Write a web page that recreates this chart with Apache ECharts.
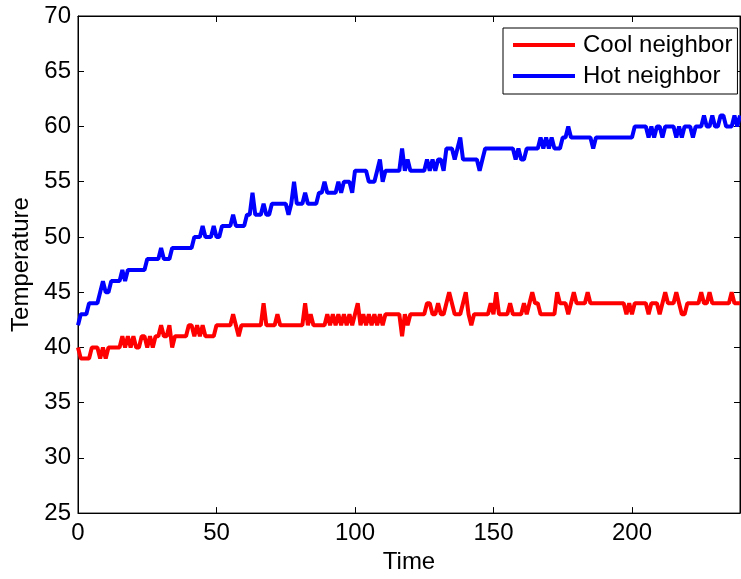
<!DOCTYPE html>
<html>
<head>
<meta charset="utf-8">
<script src="https://cdn.jsdelivr.net/npm/echarts@6/dist/echarts.min.js"></script>
<style>html,body{margin:0;padding:0;background:#fff}#c{width:741px;height:579px}</style>
</head>
<body>
<div id="c"></div>
<script>
const seriesNames = ["Cool neighbor", "Hot neighbor"];
const xTicks = [0, 50, 100, 150, 200];
const yTicks = [25, 30, 35, 40, 45, 50, 55, 60, 65, 70];
const coolValues = [
40,39,39,39,39,40,40,40,39,40,
39,40,40,40,40,40,41,40,41,40,
41,40,40,41,41,40,41,40,41,41,
42,41,41,42,40,41,41,41,41,41,
42,42,41,42,41,42,41,41,41,41,
42,42,42,42,42,42,43,42,41,42,
42,42,42,42,42,42,42,44,42,42,
42,42,43,42,42,42,42,42,42,42,
42,42,44,42,43,42,42,42,42,42,
43,42,43,42,43,42,43,42,43,42,
43,44,42,43,42,43,42,43,42,43,
42,43,43,43,43,43,43,41,43,42,
43,43,43,43,43,43,44,44,43,43,
44,43,43,44,45,44,43,43,43,44,
45,43,42,43,43,43,43,43,43,44,
43,45,43,43,43,43,44,43,43,43,
43,44,43,44,45,44,44,43,43,43,
43,43,43,45,44,44,44,43,44,45,
44,44,44,44,45,44,44,44,44,44,
44,44,44,44,44,44,44,44,43,44,
43,44,44,44,44,44,43,44,44,44,
43,44,45,44,44,44,45,44,43,43,
44,44,44,44,44,45,44,44,45,44,
44,44,44,44,44,44,45,44,44,44
];
const hotValues = [
42,43,43,43,44,44,44,44,45,46,
45,45,46,46,46,46,47,46,47,47,
47,47,47,47,47,48,48,48,48,48,
49,48,48,48,49,49,49,49,49,49,
49,49,50,50,50,51,50,50,50,51,
50,50,51,51,51,51,52,51,51,51,
51,52,52,54,52,52,52,53,52,52,
53,53,53,53,53,53,52,53,55,53,
53,53,54,53,53,53,53,54,54,55,
54,54,54,54,55,54,55,55,55,54,
56,56,56,56,56,55,55,55,56,57,
55,56,56,56,56,56,56,58,56,57,
56,56,56,56,56,56,57,56,57,56,
57,57,56,58,58,58,57,58,59,57,
57,57,57,57,57,56,57,58,58,58,
58,58,58,58,58,58,58,58,57,58,
57,57,58,58,58,58,58,59,58,59,
58,59,58,58,58,59,59,60,59,59,
59,59,59,59,59,59,58,59,59,59,
59,59,59,59,59,59,59,59,59,59,
59,60,60,60,60,60,59,60,59,60,
60,59,60,60,60,60,59,60,59,60,
60,60,59,60,60,60,61,60,60,61,
60,60,61,61,60,60,60,61,60,61
];
const xMax = coolValues.length - 1;

const FONT = 'Liberation Sans, Arial, sans-serif';
const FS = 24;
const chart = echarts.init(document.getElementById('c'), null, {renderer: 'canvas'});
const toPairs = arr => arr.map((v, i) => [i, v]);
const tickSet = (ticks) => (v) => ticks.indexOf(v) >= 0 ? String(v) : '';

chart.setOption({
  animation: false,
  backgroundColor: '#fff',
  textStyle: {fontFamily: FONT},
  grid: {left: 78, right: 1, top: 16, bottom: 63, show: true, borderColor: '#000', borderWidth: 1, backgroundColor: 'transparent'},
  legend: {
    orient: 'vertical', left: 503, top: 28,
    padding: [5, 5, 6, 10], itemGap: 7,
    itemWidth: 62, itemHeight: 4, icon: 'rect',
    backgroundColor: '#fff', borderColor: '#000', borderWidth: 1, borderRadius: 0,
    textStyle: {fontFamily: FONT, fontSize: FS, lineHeight: 24, color: '#000', padding: [0, 0, 0, 3]},
    data: seriesNames
  },
  xAxis: [{
    type: 'value', min: 0, max: xMax, interval: 50,
    name: 'Time', nameLocation: 'middle', nameGap: 35,
    nameTextStyle: {fontFamily: FONT, fontSize: FS, color: '#000'},
    axisLine: {show: true, onZero: false, lineStyle: {color: '#000', width: 1}},
    axisTick: {show: true, inside: true, length: 6, lineStyle: {color: '#000'}},
    axisLabel: {fontFamily: FONT, fontSize: FS, color: '#000', margin: 8, showMaxLabel: false, formatter: tickSet(xTicks)},
    splitLine: {show: false}
  }, {
    type: 'value', position: 'top', min: 0, max: xMax, interval: 50,
    axisLine: {show: true, onZero: false, lineStyle: {color: '#000', width: 1}},
    axisTick: {show: true, inside: true, length: 6, lineStyle: {color: '#000'}},
    axisLabel: {show: false}, splitLine: {show: false}
  }],
  yAxis: [{
    type: 'value', min: 25, max: 70, interval: 5,
    name: 'Temperature', nameLocation: 'middle', nameGap: 45, nameRotate: 90,
    nameTextStyle: {fontFamily: FONT, fontSize: FS, color: '#000'},
    axisLine: {show: true, onZero: false, lineStyle: {color: '#000', width: 1}},
    axisTick: {show: true, inside: true, length: 6, lineStyle: {color: '#000'}},
    axisLabel: {fontFamily: FONT, fontSize: FS, color: '#000', margin: 7, formatter: tickSet(yTicks)},
    splitLine: {show: false}
  }, {
    type: 'value', position: 'right', min: 25, max: 70, interval: 5,
    axisLine: {show: true, onZero: false, lineStyle: {color: '#000', width: 1}},
    axisTick: {show: true, inside: true, length: 6, lineStyle: {color: '#000'}},
    axisLabel: {show: false}, splitLine: {show: false}
  }],
  series: [
    {name: seriesNames[0], type: 'line', data: toPairs(coolValues), showSymbol: false, symbol: 'none',
     lineStyle: {color: '#ff0000', width: 4}, itemStyle: {color: '#ff0000'}, xAxisIndex: 0, yAxisIndex: 0},
    {name: seriesNames[1], type: 'line', data: toPairs(hotValues), showSymbol: false, symbol: 'none',
     lineStyle: {color: '#0000ff', width: 4}, itemStyle: {color: '#0000ff'}, xAxisIndex: 0, yAxisIndex: 0}
  ]
});
</script>
</body>
</html>
